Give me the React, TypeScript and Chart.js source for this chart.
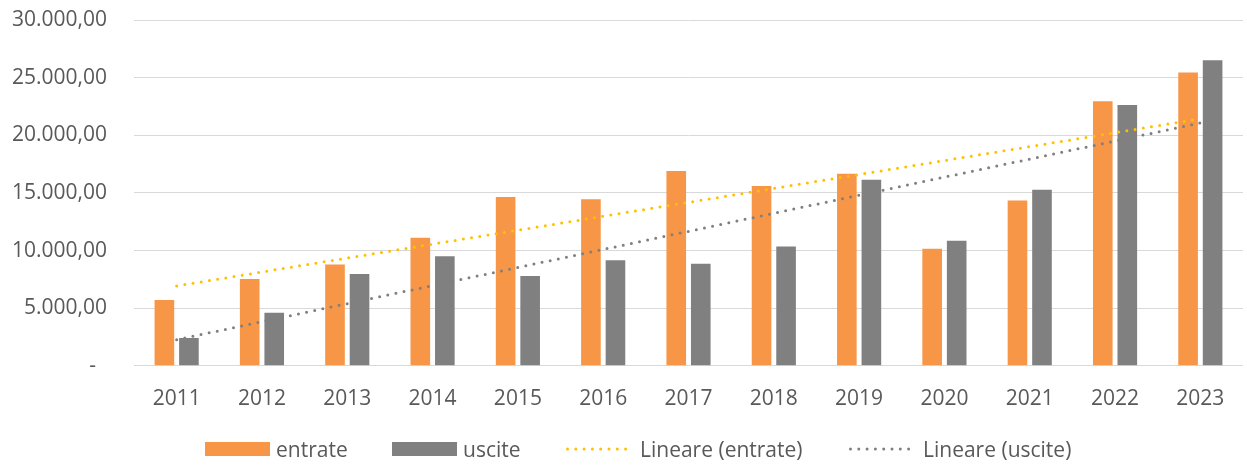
import React, { useEffect, useRef } from "react";
import { Chart, registerables } from "chart.js";

Chart.register(...registerables);

const years = ["2011", "2012", "2013", "2014", "2015", "2016", "2017", "2018", "2019", "2020", "2021", "2022", "2023"];
const entrate = [5710, 7540, 8780, 11100, 14650, 14440, 16900, 15600, 16670, 10150, 14350, 22950, 25450];
const uscite = [2410, 4610, 7970, 9500, 7800, 9150, 8850, 10350, 16150, 10840, 15280, 22630, 26500];
// trend lines (read at first and last year)
const entrateTrend = [6930, null, null, null, null, null, null, null, null, null, null, null, 21430];
const usciteTrend = [2260, null, null, null, null, null, null, null, null, null, null, null, 21070];
const yTickValues = [0, 5000, 10000, 15000, 20000, 25000, 30000];

const ORANGE = "#F79646";
const GRAY = "#808080";
const YELLOW = "#FFC000";
const TREND_GRAY = "#7F7F7F";
const TEXT = "#595959";
const FONT = "'Open Sans', sans-serif";

function fmt(v: number): string {
  if (v === 0) return "-  ";
  const s = Math.round(v).toString().replace(/\B(?=(\d{3})+(?!\d))/g, ".");
  return s + ",00";
}

const legendItems = [
  { label: "entrate", kind: "box", color: ORANGE, left: 205 },
  { label: "uscite", kind: "box", color: GRAY, left: 392 },
  { label: "Lineare (entrate)", kind: "line", color: YELLOW, left: 566 },
  { label: "Lineare (uscite)", kind: "line", color: TREND_GRAY, left: 849 },
];

export default function App() {
  const ref = useRef<HTMLCanvasElement | null>(null);

  useEffect(() => {
    document.body.style.margin = "0";
    const canvas = ref.current;
    if (!canvas) return;
    const chart = new Chart(canvas, {
      type: "bar",
      data: {
        labels: years,
        datasets: [
          {
            label: "entrate",
            data: entrate,
            backgroundColor: ORANGE,
            categoryPercentage: 0.575,
            barPercentage: 0.8,
            order: 2,
          },
          {
            label: "uscite",
            data: uscite,
            backgroundColor: GRAY,
            categoryPercentage: 0.575,
            barPercentage: 0.8,
            order: 2,
          },
          {
            type: "line",
            label: "Lineare (entrate)",
            data: entrateTrend,
            borderColor: YELLOW,
            backgroundColor: YELLOW,
            borderWidth: 3,
            borderDash: [0, 8.3],
            borderCapStyle: "round",
            pointRadius: 0,
            spanGaps: true,
            fill: false,
            order: 1,
          },
          {
            type: "line",
            label: "Lineare (uscite)",
            data: usciteTrend,
            borderColor: TREND_GRAY,
            backgroundColor: TREND_GRAY,
            borderWidth: 3,
            borderDash: [0, 8.3],
            borderCapStyle: "round",
            pointRadius: 0,
            spanGaps: true,
            fill: false,
            order: 0,
          },
        ] as any,
      },
      options: {
        responsive: false,
        animation: false,
        devicePixelRatio: 1,
        layout: { padding: { top: 20, right: 4, bottom: 11, left: 0 } },
        plugins: {
          legend: { display: false },
          tooltip: { enabled: false },
        },
        scales: {
          x: {
            grid: { display: false },
            border: { display: false },
            ticks: {
              color: TEXT,
              padding: 13,
              font: { family: FONT, size: 21 },
              maxRotation: 0,
            },
          },
          y: {
            min: 0,
            max: 30000,
            afterFit: (scale: any) => {
              scale.width = 134;
              scale.paddingTop = 0;
              scale.paddingBottom = 0;
            },
            afterBuildTicks: (scale: any) => {
              scale.ticks = yTickValues.map((v) => ({ value: v }));
            },
            grid: { color: "#D9D9D9", lineWidth: 1, drawTicks: false },
            border: { display: false },
            ticks: {
              color: TEXT,
              padding: 27,
              font: { family: FONT, size: 21 },
              callback: (v: any) => fmt(Number(v)),
            },
          },
        },
      },
    });
    return () => chart.destroy();
  }, []);

  return (
    <div style={{ position: "fixed", left: 0, top: 0, width: 1247, height: 468, background: "#fff" }}>
      <canvas ref={ref} width={1247} height={436} style={{ display: "block" }} />
      {legendItems.map((it) => (
        <div
          key={it.label}
          style={{
            position: "absolute",
            left: it.left,
            top: 435,
            height: 28,
            display: "flex",
            alignItems: "center",
            fontFamily: FONT,
            fontSize: 21,
            color: TEXT,
            whiteSpace: "nowrap",
          }}
        >
          {it.kind === "box" ? (
            <span style={{ display: "inline-block", width: 65, height: 14, background: it.color, marginRight: 6 }} />
          ) : (
            <svg width={66} height={10} style={{ marginRight: 8 }}>
              <line
                x1={1.5}
                y1={5}
                x2={64.5}
                y2={5}
                stroke={it.color}
                strokeWidth={3}
                strokeDasharray="0 8.3"
                strokeLinecap="round"
              />
            </svg>
          )}
          <span>{it.label}</span>
        </div>
      ))}
    </div>
  );
}
